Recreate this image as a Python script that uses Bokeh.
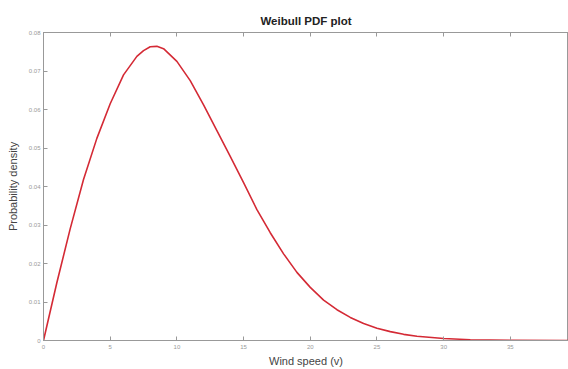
from bokeh.plotting import figure
from bokeh.models import Range1d, LinearAxis, FixedTicker
from bokeh.embed import file_html
from bokeh.resources import INLINE

# Weibull probability density of wind speed
wind_speed = [0, 1, 2, 3, 4, 5, 6, 7, 7.5, 8, 8.5, 9, 10, 11, 12, 13, 14, 15,
              16, 17, 18, 19, 20, 21, 22, 23, 24, 25, 26, 27, 28, 30, 32, 35, 39.4]
density = [0.0, 0.0150, 0.0290, 0.0418, 0.0525, 0.0615, 0.0690, 0.0738, 0.0753,
           0.0763, 0.0764, 0.0758, 0.0725, 0.0675, 0.0612, 0.0545, 0.0478,
           0.0410, 0.0340, 0.0280, 0.0225, 0.0177, 0.0138, 0.0105, 0.0080,
           0.0060, 0.0044, 0.0032, 0.0023, 0.0016, 0.0011, 0.0005, 0.0002,
           0.00003, 0.0]

x_ticks = [0, 5, 10, 15, 20, 25, 30, 35]
y_ticks = [0.0, 0.01, 0.02, 0.03, 0.04, 0.05, 0.06, 0.07, 0.08]
y_tick_labels = ["0", "0.01", "0.02", "0.03", "0.04", "0.05", "0.06", "0.07", "0.08"]

FONT = "Liberation Sans"

p = figure(width=568, height=369, output_backend="svg", toolbar_location=None,
           x_range=Range1d(0, 39.36), y_range=Range1d(0, 0.08),
           min_border_left=43, min_border_right=0, min_border_top=32,
           min_border_bottom=28)

p.line(wind_speed, density, line_color="#d42a35", line_width=1.6,
       line_join="round")

p.title.text = "Weibull PDF plot"
p.title.align = "center"
p.title.text_font = FONT
p.title.text_font_size = "11.5px"
p.title.text_font_style = "bold"
p.title.text_color = "#222222"
p.title.standoff = 12

p.xgrid.visible = False
p.ygrid.visible = False
p.outline_line_color = "#999999"
p.background_fill_color = "white"
p.border_fill_color = "white"

for ax in (p.xaxis[0], p.yaxis[0]):
    ax.axis_line_color = "#999999"
    ax.major_tick_line_color = "#999999"
    ax.major_tick_in = 4
    ax.major_tick_out = 0
    ax.minor_tick_line_color = None
    ax.major_label_text_font = FONT
    ax.major_label_text_font_size = "6px"
    ax.major_label_text_color = "#999999"
    ax.axis_label_text_font = FONT
    ax.axis_label_text_font_size = "11px"
    ax.axis_label_text_font_style = "normal"
    ax.axis_label_text_color = "#444444"

p.xaxis.ticker = FixedTicker(ticks=x_ticks)
p.xaxis.major_label_standoff = 4
p.xaxis.axis_label = "Wind speed (v)"
p.xaxis.axis_label_standoff = 3

p.yaxis.ticker = FixedTicker(ticks=y_ticks)
p.yaxis.major_label_overrides = {t: s for t, s in zip(y_ticks, y_tick_labels)}
p.yaxis.major_label_standoff = 3
p.yaxis.axis_label = "Probability density"
p.yaxis.axis_label_standoff = 7

# Box top with inward ticks only
top = LinearAxis(ticker=FixedTicker(ticks=x_ticks),
                 major_label_overrides={t: "" for t in x_ticks},
                 axis_line_color="#999999", major_tick_line_color="#999999",
                 major_tick_in=4, major_tick_out=0, minor_tick_line_color=None,
                 major_label_standoff=0)
p.add_layout(top, "above")

open("out.html", "w").write(file_html(p, INLINE))
